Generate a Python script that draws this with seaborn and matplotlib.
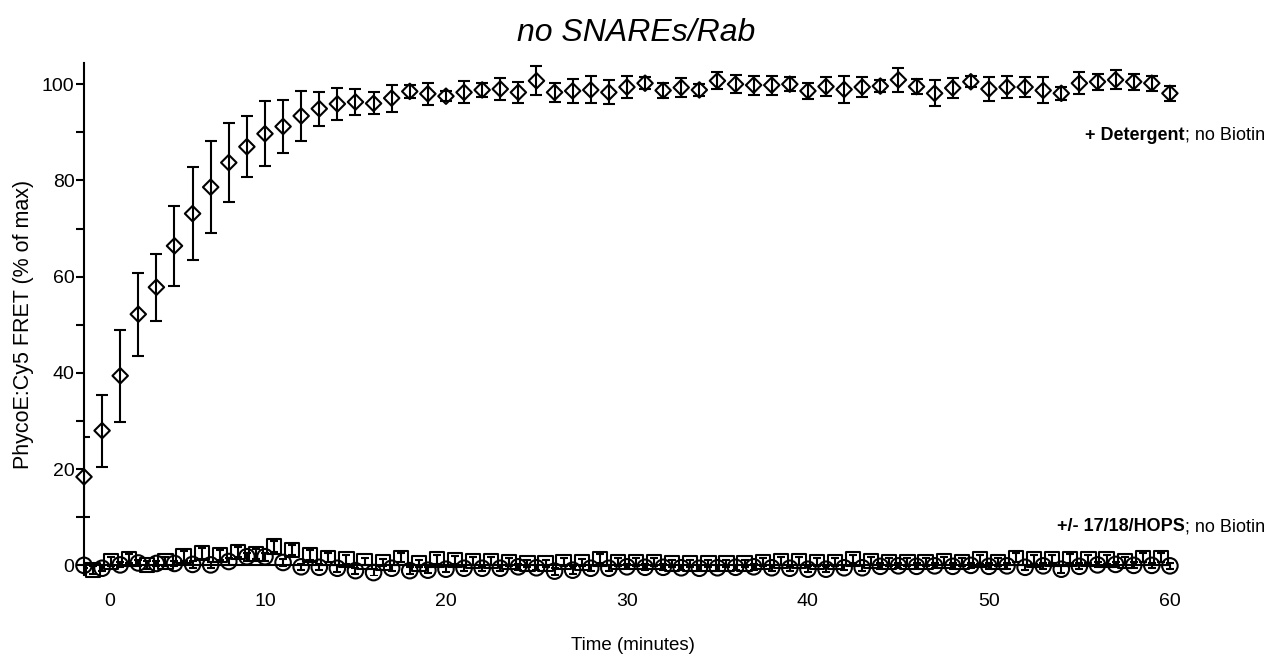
import numpy as np
import pandas as pd
import matplotlib
matplotlib.use("Agg")
import matplotlib.pyplot as plt
from matplotlib.ticker import MultipleLocator
from matplotlib.transforms import ScaledTranslation
import seaborn as sns

# ---------------- data ----------------
det_t = np.arange(0, 61, 1.0)
det_y = [18.4, 28.0, 39.4, 52.2, 57.8, 66.4, 73.1, 78.6, 83.7, 87.0,
         89.7, 91.2, 93.4, 94.9, 95.9, 96.3, 96.0, 97.1, 98.5, 98.0,
         97.5, 98.3, 98.8, 99.0, 98.3, 100.7, 98.3, 98.6, 98.8, 98.3,
         99.4, 100.2, 98.7, 99.3, 98.8, 100.7, 100.0, 99.8, 99.8, 100.0,
         98.6, 99.5, 98.9, 99.4, 99.6, 100.9, 99.5, 98.1, 99.2, 100.5,
         99.0, 99.4, 99.4, 98.7, 98.1, 100.2, 100.5, 100.9, 100.5, 100.2, 98.1]
det_err = [8.3, 7.5, 9.6, 8.6, 7.0, 8.3, 9.6, 9.5, 8.2, 6.3,
           6.7, 5.5, 5.2, 3.5, 3.4, 2.8, 2.3, 2.8, 1.4, 2.3,
           1.1, 2.3, 1.5, 2.2, 2.2, 3.0, 2.0, 2.5, 2.8, 2.5,
           2.2, 1.2, 1.6, 1.9, 1.3, 1.8, 1.9, 2.0, 2.0, 1.5,
           1.7, 2.0, 2.8, 2.0, 1.3, 2.5, 1.6, 2.7, 2.0, 1.1,
           2.5, 2.2, 2.0, 2.7, 1.4, 2.3, 1.7, 2.0, 1.7, 1.6, 1.6]

circ_t = np.arange(0, 61, 1.0)
circ_y = [0.0, -0.6, 0.1, 0.5, 0.4, 0.4, 0.2, 0.1, 0.8, 1.8,
          1.8, 0.6, -0.3, -0.4, -0.6, -1.1, -1.5, -0.6, -1.1, -1.0, -0.8,
          -0.6, -0.6, -0.6, -0.3, -0.5, -1.2, -1.0, -0.6, -0.6, -0.3,
          -0.4, -0.4, -0.5, -0.6, -0.5, -0.4, -0.3, -0.5,
          -0.6, -0.8, -0.8, -0.5, -0.5, -0.2, -0.1, -0.2, -0.1, -0.2,
          0.0, -0.2, -0.1, -0.4, -0.1, -0.8, -0.2, 0.1, 0.2, 0.0, 0.0, -0.1]
circ_err = [0.5, 0.6, 0.5, 0.6, 0.5, 0.6, 0.7, 0.6, 0.7, 0.8,
            0.8, 0.7, 0.6, 0.6, 0.7, 0.6, 0.7, 0.6, 0.7, 0.6, 0.6,
            0.6, 0.5, 0.6, 0.6, 0.5, 0.7, 0.8, 0.6, 0.6, 0.5,
            0.6, 0.6, 0.5, 0.6, 0.6, 0.5, 0.6, 0.6,
            0.5, 0.6, 0.6, 0.5, 0.6, 0.6, 0.5, 0.6, 0.5, 0.6,
            0.5, 0.6, 0.6, 0.5, 0.6, 0.7, 0.6, 0.5, 0.6, 0.6, 0.5, 0.6]

sq_t = np.arange(0.5, 60, 1.0)
sq_y = [-1.0, 0.8, 1.4, 0.1, 0.8, 1.9, 2.5, 2.1, 2.8, 2.4,
        3.9, 3.2, 2.1, 1.6, 1.2, 0.8, 0.6, 1.6, 0.4, 1.2, 1.1,
        0.85, 0.9, 0.7, 0.4, 0.4, 0.7, 0.6, 1.4, 0.7, 0.7,
        0.7, 0.4, 0.4, 0.4, 0.4, 0.4, 0.7, 0.85,
        0.9, 0.7, 0.7, 1.3, 0.9, 0.7, 0.7, 0.7, 0.9, 0.7,
        1.2, 0.7, 1.6, 1.2, 1.3, 1.4, 1.3, 1.2, 0.9, 1.6, 1.6]
sq_err = [0.8, 0.9, 0.9, 0.8, 0.9, 1.0, 1.1, 1.0, 1.1, 1.0,
          1.2, 1.1, 1.0, 0.9, 0.9, 0.8, 0.8, 0.9, 0.8, 0.9, 0.9,
          0.8, 0.9, 0.8, 0.8, 0.8, 0.9, 0.8, 1.0, 0.8, 0.8,
          0.8, 0.8, 0.8, 0.8, 0.8, 0.8, 0.8, 0.8,
          0.9, 0.8, 0.8, 0.9, 0.8, 0.8, 0.8, 0.8, 0.9, 0.8,
          0.9, 0.8, 1.0, 0.9, 0.9, 1.0, 0.9, 0.9, 0.8, 1.0, 1.0]

x_ticks = [0, 10, 20, 30, 40, 50, 60]
x_tick_labels = ["0", "10", "20", "30", "40", "50", "60"]
y_ticks = [0, 20, 40, 60, 80, 100]

title = "no SNAREs/Rab"
x_label = "Time (minutes)"
y_label = "PhycoE:Cy5 FRET (% of max)"

# ---------------- figure ----------------
sns.set_theme(style="ticks")
plt.rcParams['font.family'] = ['Liberation Sans', 'DejaVu Sans']

fig = plt.figure(figsize=(12.75, 6.61), dpi=100)
ax = fig.add_axes([0.06588, 0.13011, 0.86588, 0.77458])

lw = 1.5

# zero baseline
ax.hlines(0, circ_t[0], circ_t[-1], color='black', lw=lw, zorder=1)

# error bars
ax.errorbar(circ_t, circ_y, yerr=circ_err, fmt='none', ecolor='black',
            elinewidth=lw, capsize=3, capthick=lw, zorder=2)
ax.errorbar(sq_t, sq_y, yerr=sq_err, fmt='none', ecolor='black',
            elinewidth=lw, capsize=3, capthick=lw, zorder=2)
ax.errorbar(det_t, det_y, yerr=det_err, fmt='none', ecolor='black',
            elinewidth=lw, capsize=4.5, capthick=lw, zorder=2)

# markers
df_c = pd.DataFrame({"t": circ_t, "v": circ_y})
df_s = pd.DataFrame({"t": sq_t, "v": sq_y})
df_d = pd.DataFrame({"t": det_t, "v": det_y})
sns.scatterplot(data=df_c, x="t", y="v", marker='o', s=125, facecolor='none',
                edgecolor='black', linewidth=lw, ax=ax, zorder=3, clip_on=False)
sns.scatterplot(data=df_s, x="t", y="v", marker='s', s=105, facecolor='none',
                edgecolor='black', linewidth=lw, ax=ax, zorder=3, clip_on=False)
sns.scatterplot(data=df_d, x="t", y="v", marker='D', s=62, facecolor='none',
                edgecolor='black', linewidth=lw, ax=ax, zorder=4, clip_on=False)

ax.set_xlim(0, 61)
ax.set_ylim(-2, 104.4)

# spines
for s in ["top", "right", "bottom"]:
    ax.spines[s].set_visible(False)
ax.spines["left"].set_color("black")
ax.spines["left"].set_linewidth(lw)

# y ticks
ax.set_yticks(y_ticks)
ax.yaxis.set_minor_locator(MultipleLocator(10))
ax.tick_params(axis='y', which='both', direction='out', length=6, width=lw,
               color='black', labelsize=14, pad=0.8, labelcolor='black')

# x ticks (no tick marks)
ax.tick_params(axis='x', which='both', length=0, labelsize=14, pad=13,
               labelcolor='black')
ax.set_xticks(x_ticks)
ax.set_xticklabels(x_tick_labels)
lab0 = ax.get_xticklabels()[0]
lab0.set_transform(lab0.get_transform() + ScaledTranslation(0.26, 0, fig.dpi_scale_trans))

ax.set_xlabel(x_label, fontsize=13.5, color='black')
ax.xaxis.set_label_coords(0.497, -0.121)
ax.set_ylabel(y_label, fontsize=15.5, color='black')
ax.yaxis.set_label_coords(-0.045, 0.49)

ax.set_title(title, fontsize=23, style='italic', pad=16, color='black')

# annotations (bold + normal parts, right aligned)
t1 = fig.text(1265 / 1275, 1 - 140 / 661, "; no Biotin", ha='right', va='baseline',
              fontsize=13, color='black')
ax.annotate("+ Detergent", xy=(0, 0), xycoords=t1, ha='right', va='bottom',
            fontsize=13, fontweight='bold', color='black', annotation_clip=False)
t2 = fig.text(1265 / 1275, 1 - 531 / 661, "; no Biotin", ha='right', va='baseline',
              fontsize=13, color='black')
ax.annotate("+/- 17/18/HOPS", xy=(0, 0), xycoords=t2, ha='right', va='bottom',
            fontsize=13, fontweight='bold', color='black', annotation_clip=False)

fig.savefig("out.png", dpi=100)
